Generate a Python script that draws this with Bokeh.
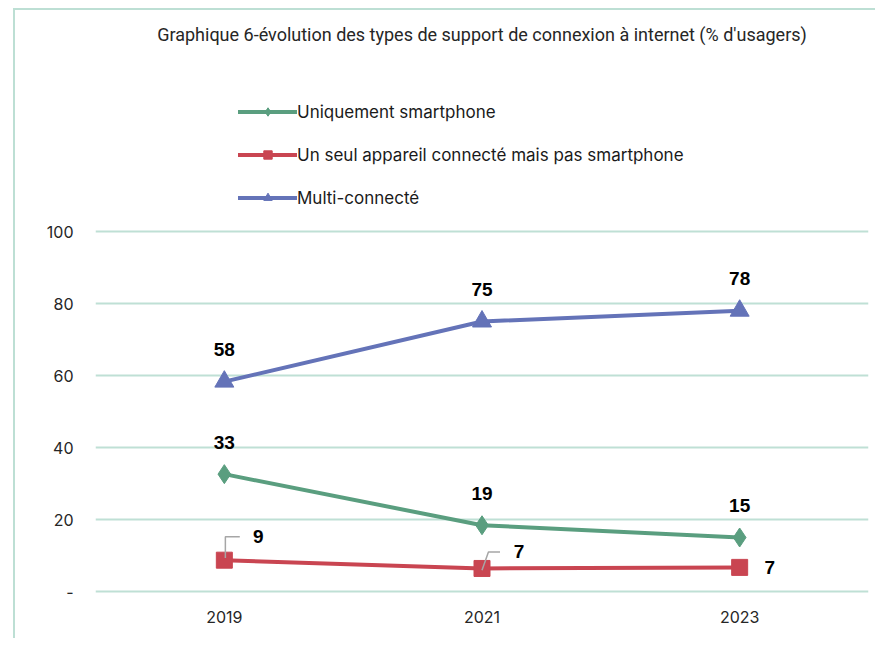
from bokeh.plotting import figure
from bokeh.models import (ColumnDataSource, FixedTicker, Range1d, Legend, LegendItem,
                          LabelSet)
from bokeh.core.properties import value
from bokeh.embed import file_html
from bokeh.resources import INLINE

years = ["2019", "2021", "2023"]
smartphone = [32.6, 18.4, 15.0]
un_seul = [8.7, 6.4, 6.7]
multi = [58.3, 75.0, 78.0]
smartphone_lbl = ["33", "19", "15"]
un_seul_lbl = ["9", "7", "7"]
multi_lbl = ["58", "75", "78"]
y_ticks = [0, 20, 40, 60, 80, 100]

title_txt = "Graphique 6-évolution des types de support de connexion à internet (% d'usagers)"

GREEN = "#5a9e7f"
RED = "#c94551"
BLUE = "#6473b8"
GRID = "#bfe0d5"
BORDER = "#bddfd4"
FONT = "Inter"

W, H = 862, 630
p = figure(x_range=years, y_range=Range1d(-1.11, 159.17), width=W, height=H,
           output_backend="svg", toolbar_location=None,
           min_border_left=80, min_border_right=9, min_border_top=8, min_border_bottom=45)
p.outline_line_color = None
p.background_fill_color = "white"
p.border_fill_color = "white"
p.styles = {"border-top": f"2px solid {BORDER}", "border-left": f"2px solid {BORDER}",
            "margin-left": "13px", "margin-top": "8px"}

# axes
p.yaxis.ticker = FixedTicker(ticks=y_ticks)
p.yaxis.major_label_overrides = {0: "-"}
for ax in (p.xaxis[0], p.yaxis[0]):
    ax.axis_line_color = None
    ax.major_tick_line_color = None
    ax.minor_tick_line_color = None
    ax.major_tick_out = 0
    ax.major_tick_in = 0
    ax.major_label_text_font = FONT
    ax.major_label_text_font_size = "16px"
    ax.major_label_text_color = "#262626"
p.yaxis.major_label_standoff = 22
p.xaxis.major_label_standoff = 15
p.xgrid.grid_line_color = None
p.ygrid.grid_line_color = GRID
p.ygrid.grid_line_width = 2

src = ColumnDataSource(dict(x=years, s=smartphone, u=un_seul, m=multi,
                            sl=smartphone_lbl, ul=un_seul_lbl, ml=multi_lbl))

p.line("x", "s", source=src, color=GREEN, line_width=4)
p.scatter("x", "s", source=src, marker="diamond", size=19, color=GREEN)
p.line("x", "u", source=src, color=RED, line_width=4)
p.scatter("x", "u", source=src, marker="square", size=16, color=RED)
p.line("x", "m", source=src, color=BLUE, line_width=4)
p.scatter("x", "m", source=src, marker="triangle", size=19, color=BLUE)

# legend-only renderers (no visible data) with smaller markers
lg_src = ColumnDataSource(dict(x=[years[0]], y=[float("nan")]))
lg = []
for col, mk, sz in [(GREEN, "diamond", 14), (RED, "square", 12), (BLUE, "triangle", 13)]:
    ln = p.line("x", "y", source=lg_src, color=col, line_width=4, line_cap="round")
    sc = p.scatter("x", "y", source=lg_src, marker=mk, size=sz, color=col)
    lg.append([ln, sc])

lab_kw = dict(text_font=value("Liberation Sans"), text_font_size="19px", text_font_style="bold",
              text_color="#000000", text_align="center", text_baseline="middle")
p.add_layout(LabelSet(x="x", y="m", text="ml", source=src, y_offset=32, **lab_kw))
p.add_layout(LabelSet(x="x", y="s", text="sl", source=src, y_offset=32, **lab_kw))

# red labels: leader lines for first two, plain to the right for last
ys = un_seul
p.multi_line(xs=[[(years[0], 0.004), (years[0], 0.004), (years[0], 0.06)],
                 [(years[1], 0.0), (years[1], 0.025), (years[1], 0.07)]],
             ys=[[ys[0] + 0.6, ys[0] + 6.5, ys[0] + 6.5],
                 [ys[1] - 0.5, ys[1] + 4.6, ys[1] + 4.6]],
             line_color="#a6a6a6", line_width=1.5)
red_src = ColumnDataSource(dict(x=years, y=[ys[0] + 6.5, ys[1] + 4.6, ys[2]],
                                t=un_seul_lbl, xo=[34, 37, 30]))
p.add_layout(LabelSet(x="x", y="y", text="t", x_offset="xo", source=red_src, **lab_kw))

legend = Legend(items=[LegendItem(label="Uniquement smartphone", renderers=lg[0]),
                       LegendItem(label="Un seul appareil connecté mais pas smartphone", renderers=lg[1]),
                       LegendItem(label="Multi-connecté", renderers=lg[2])],
                location=(143, 387), orientation="vertical",
                glyph_width=59, glyph_height=21, label_height=21, spacing=22,
                padding=0, margin=0, label_standoff=0,
                label_text_font=FONT, label_text_font_size="17px", label_text_color="#1a1a1a",
                border_line_color=None, background_fill_alpha=0)
p.add_layout(legend)

title_src = ColumnDataSource(dict(x=[years[1]], y=[154.6], t=[title_txt]))
p.add_layout(LabelSet(x="x", y="y", text="t", source=title_src,
                      text_font=value("Roboto"), text_font_size="18px",
                      text_color="#262626", text_align="center", text_baseline="middle"))

open("out.html", "w").write(file_html(p, INLINE))
